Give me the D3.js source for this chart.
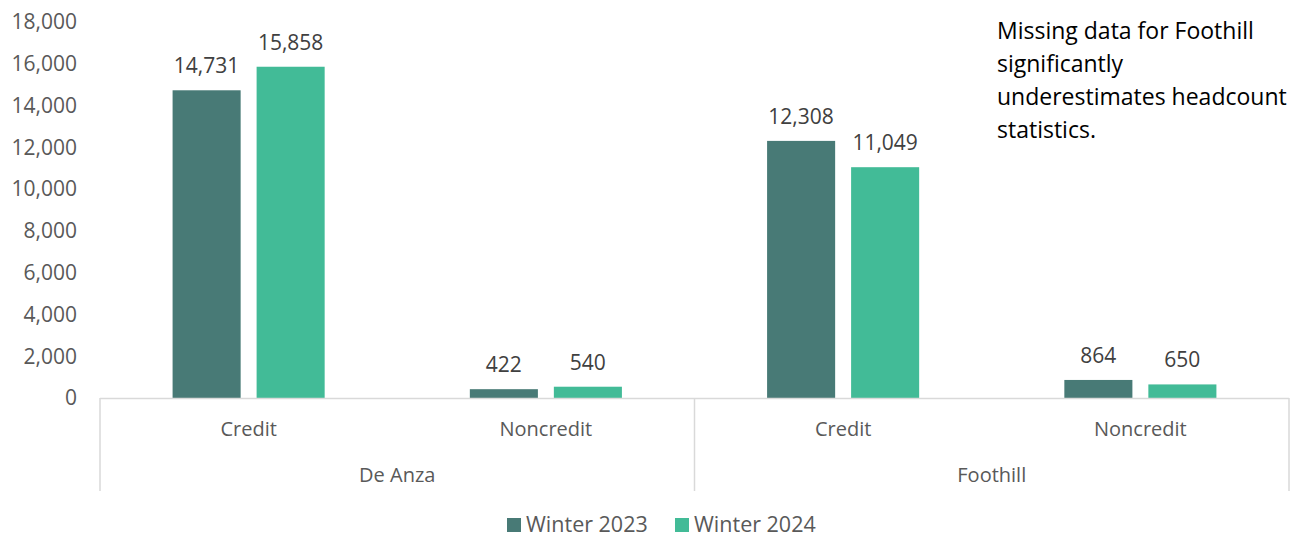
<!DOCTYPE html>
<html>
<head>
<meta charset="utf-8">
<script src="https://cdn.jsdelivr.net/npm/d3@7"></script>
<style>
  body { margin: 0; background: #fff; }
  text { font-family: "Open Sans", sans-serif; }
</style>
</head>
<body>
<svg id="chart"></svg>
<script>
var width = 1293
var height = 535

var colleges = ["De Anza", "Foothill"]
var types = ["Credit", "Noncredit"]
var seriesNames = ["Winter 2023", "Winter 2024"]
var winter2023 = [14731, 422, 12308, 864]
var winter2024 = [15858, 540, 11049, 650]
var yTicks = [0, 2000, 4000, 6000, 8000, 10000, 12000, 14000, 16000, 18000]
var colors = ["#487a76", "#42bb97"]
var note = ["Missing data for Foothill", "significantly", "underestimates headcount", "statistics."]

var groups = []
colleges.forEach(function(c){
	types.forEach(function(t){
		groups.push(c + "|" + t)
	})
})

var rows = groups.map(function(g, i){
	return {key: g, type: g.split("|")[1], values: [winter2023[i], winter2024[i]]}
})

var svg = d3.select("#chart")
	.attr("width", width)
	.attr("height", height)

var plotLeft = 100, plotRight = 1289, plotTop = 22, plotBottom = 398

var x0 = d3.scaleBand()
	.domain(groups)
	.range([plotLeft, plotRight])
	.paddingInner(0)
	.paddingOuter(0)

var x1 = d3.scaleBand()
	.domain(seriesNames)
	.range([0, x0.bandwidth()])
	.paddingInner(0.19)
	.paddingOuter(0.864)

var y = d3.scaleLinear()
	.domain([0, 18000])
	.range([plotBottom, plotTop])

var fmt = d3.format(",")

// y axis labels
svg.append("g")
	.selectAll("text")
	.data(yTicks)
	.join("text")
	.attr("x", 77)
	.attr("y", function(d){ return y(d) })
	.attr("dy", "0.35em")
	.attr("text-anchor", "end")
	.attr("font-size", 21)
	.attr("fill", "#595959")
	.text(function(d){ return fmt(d) })

// bars
var g = svg.append("g")
	.selectAll("g")
	.data(rows)
	.join("g")
	.attr("transform", function(d){ return "translate(" + x0(d.key) + ",0)" })

g.selectAll("rect")
	.data(function(d){ return d.values.map(function(v, i){ return {name: seriesNames[i], value: v} }) })
	.join("rect")
	.attr("x", function(d){ return x1(d.name) })
	.attr("y", function(d){ return y(d.value) })
	.attr("width", x1.bandwidth())
	.attr("height", function(d){ return y(0) - y(d.value) })
	.attr("fill", function(d, i){ return colors[i] })

g.selectAll(".val")
	.data(function(d){ return d.values.map(function(v, i){ return {name: seriesNames[i], value: v} }) })
	.join("text")
	.attr("class", "val")
	.attr("x", function(d){ return x1(d.name) + x1.bandwidth() / 2 })
	.attr("y", function(d){ return y(d.value) - 17 })
	.attr("text-anchor", "middle")
	.attr("font-size", 21)
	.attr("fill", "#404040")
	.text(function(d){ return fmt(d.value) })

// axis line and separators
var axisColor = "#d9d9d9"
svg.append("line")
	.attr("x1", plotLeft).attr("x2", plotRight)
	.attr("y1", plotBottom + 0.5).attr("y2", plotBottom + 0.5)
	.attr("stroke", axisColor).attr("stroke-width", 1.5)

var sepX = [plotLeft, x0(colleges[1] + "|" + types[0]), plotRight]
svg.append("g")
	.selectAll("line")
	.data(sepX)
	.join("line")
	.attr("x1", function(d){ return d }).attr("x2", function(d){ return d })
	.attr("y1", plotBottom).attr("y2", 491)
	.attr("stroke", axisColor).attr("stroke-width", 1.5)

// category labels
svg.append("g")
	.selectAll("text")
	.data(rows)
	.join("text")
	.attr("x", function(d){ return x0(d.key) + x0.bandwidth() / 2 })
	.attr("y", 436)
	.attr("text-anchor", "middle")
	.attr("font-size", 20)
	.attr("fill", "#595959")
	.text(function(d){ return d.type })

svg.append("g")
	.selectAll("text")
	.data(colleges)
	.join("text")
	.attr("x", function(d){ return (x0(d + "|" + types[0]) + x0(d + "|" + types[1]) + x0.bandwidth()) / 2 })
	.attr("y", 482)
	.attr("text-anchor", "middle")
	.attr("font-size", 20)
	.attr("fill", "#595959")
	.text(function(d){ return d })

// legend
var legendX = [507, 675]
var legend = svg.append("g")
	.selectAll("g")
	.data(seriesNames)
	.join("g")
	.attr("transform", function(d, i){ return "translate(" + legendX[i] + ",518)" })

legend.append("rect")
	.attr("width", 14).attr("height", 14)
	.attr("fill", function(d, i){ return colors[i] })

legend.append("text")
	.attr("x", 19)
	.attr("y", 6)
	.attr("dy", "0.35em")
	.attr("font-size", 21.5)
	.attr("fill", "#595959")
	.text(function(d){ return d })

// note
svg.append("g")
	.selectAll("text")
	.data(note)
	.join("text")
	.attr("x", 997)
	.attr("y", function(d, i){ return 39 + i * 33 })
	.attr("font-family", "Lato, sans-serif")
	.attr("font-size", 23)
	.attr("fill", "#000")
	.text(function(d){ return d })
</script>
</body>
</html>
